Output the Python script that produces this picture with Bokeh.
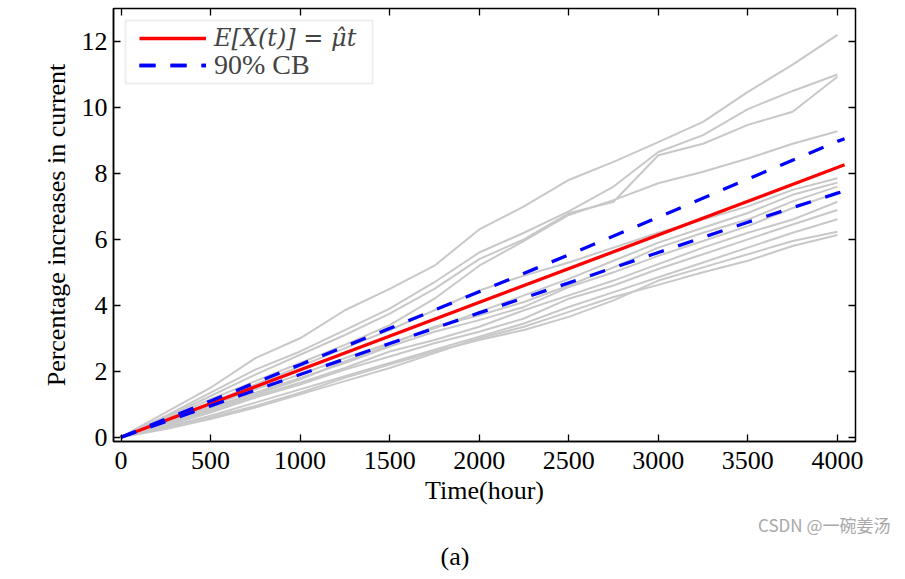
from bokeh.plotting import figure
from bokeh.models import (Range1d, LinearAxis, FixedTicker, Legend, LegendItem,
                          BoxAnnotation, Title)
from bokeh.embed import file_html
from bokeh.resources import INLINE

# ---------------- data ----------------
time_h = [0, 250, 500, 750, 1000, 1250, 1500, 1750, 2000, 2250, 2500,
          2750, 3000, 3250, 3500, 3750, 4000]

run_01 = [0, 0.75, 1.5, 2.4, 3.0, 3.85, 4.5, 5.2, 6.3, 7.0, 7.8, 8.35, 8.95, 9.56, 10.47, 11.3, 12.2]
run_02 = [0, 0.65, 1.35, 2.05, 2.6, 3.25, 3.9, 4.7, 5.6, 6.2, 6.85, 7.6, 8.65, 9.16, 9.95, 10.5, 11.0]
run_03 = [0, 0.6, 1.25, 1.9, 2.5, 3.1, 3.75, 4.5, 5.4, 6.0, 6.79, 7.14, 8.55, 8.9, 9.47, 9.87, 10.93]
run_04 = [0, 0.55, 1.15, 1.7, 2.25, 2.8, 3.4, 4.2, 5.2, 5.95, 6.74, 7.19, 7.7, 8.05, 8.45, 8.9, 9.28]
run_05 = [0, 0.5, 1.05, 1.6, 2.15, 2.7, 3.25, 3.85, 4.45, 4.9, 5.3, 5.75, 6.2, 6.6, 7.0, 7.5, 7.85]
run_06 = [0, 0.45, 0.95, 1.45, 1.9, 2.4, 2.85, 3.3, 3.8, 4.3, 4.8, 5.35, 5.9, 6.35, 6.8, 7.35, 7.72]
run_07 = [0, 0.4, 0.85, 1.3, 1.75, 2.3, 2.8, 3.35, 3.7, 4.1, 4.6, 5.15, 5.75, 6.2, 6.6, 7.15, 7.6]
run_08 = [0, 0.45, 0.9, 1.35, 1.8, 2.25, 2.75, 3.2, 3.55, 3.95, 4.55, 5.0, 5.5, 5.95, 6.4, 6.95, 7.41]
run_09 = [0, 0.4, 0.8, 1.25, 1.65, 2.1, 2.6, 2.95, 3.35, 3.85, 4.3, 4.75, 5.25, 5.75, 6.2, 6.6, 7.14]
run_10 = [0, 0.35, 0.75, 1.2, 1.6, 2.05, 2.45, 2.85, 3.2, 3.6, 4.2, 4.6, 5.1, 5.55, 6.0, 6.45, 6.89]
run_11 = [0, 0.3, 0.65, 1.05, 1.45, 1.85, 2.25, 2.65, 3.05, 3.45, 3.95, 4.4, 4.85, 5.3, 5.75, 6.2, 6.61]
run_12 = [0, 0.3, 0.6, 0.95, 1.35, 1.8, 2.2, 2.6, 2.95, 3.25, 3.65, 4.15, 4.75, 5.15, 5.55, 5.95, 6.23]
run_13 = [0, 0.25, 0.55, 0.9, 1.3, 1.7, 2.1, 2.55, 3.0, 3.35, 3.8, 4.25, 4.62, 5.0, 5.35, 5.8, 6.13]

mean_t = [0, 4040]
mean_v = [0, 8.26]

bound_t = [0, 500, 1000, 1500, 2000, 2500, 3000, 3500, 4000, 4040]
upper_v = [0, 1.10, 2.20, 3.30, 4.41, 5.53, 6.67, 7.83, 8.97, 9.05]
lower_v = [0, 0.95, 1.90, 2.84, 3.77, 4.68, 5.60, 6.52, 7.40, 7.47]

x_ticks = [0, 500, 1000, 1500, 2000, 2500, 3000, 3500, 4000]
y_ticks = [0, 2, 4, 6, 8, 10, 12]

label_mean = "E[X(t)] = \u03bc\u0302t"
label_cb = "90% CB"
x_title = "Time(hour)"
y_title = "Percentage increases in current"
caption = "(a)"
watermark = "CSDN @\u4e00\u7897\u59dc\u6c64"

# ---------------- figure ----------------
SERIF = "Liberation Serif"
FS = "26px"

p = figure(width=897, height=571, output_backend="svg", toolbar_location=None,
           x_range=Range1d(-42, 4101), y_range=Range1d(-0.13, 13.0),
           min_border_left=113, min_border_right=42,
           min_border_top=8, min_border_bottom=130)
p.grid.visible = False
p.background_fill_color = "white"
p.border_fill_color = "white"
p.outline_line_color = "black"
p.outline_line_width = 1.5

for ax, ticks in ((p.xaxis[0], x_ticks), (p.yaxis[0], y_ticks)):
    ax.ticker = FixedTicker(ticks=ticks)
    ax.major_tick_in = 7
    ax.major_tick_out = 0
    ax.minor_tick_line_color = None
    ax.axis_line_width = 1.5
    ax.major_tick_line_width = 1.3
    ax.major_label_text_font = SERIF
    ax.major_label_text_font_size = FS
    ax.major_label_text_color = "black"
    ax.axis_label_text_font = SERIF
    ax.axis_label_text_font_size = FS
    ax.axis_label_text_font_style = "normal"
    ax.axis_label_text_color = "black"

p.xaxis.axis_label = x_title
p.yaxis.axis_label = y_title
p.xaxis.major_label_standoff = 10
p.xaxis.axis_label_standoff = 4
p.yaxis.major_label_standoff = 6
p.yaxis.axis_label_standoff = 8

for place, ticks in (("above", x_ticks), ("right", y_ticks)):
    ax = LinearAxis(ticker=FixedTicker(ticks=ticks),
                    major_label_overrides={t: "" for t in ticks},
                    major_label_text_font_size="0px", major_label_standoff=0,
                    major_tick_in=7, major_tick_out=0,
                    minor_tick_line_color=None, axis_line_color=None,
                    major_tick_line_width=1.3)
    p.add_layout(ax, place)

GRAY = "#c8c8c8"
for run in (run_01, run_02, run_03, run_04, run_05, run_06, run_07,
            run_08, run_09, run_10, run_11, run_12, run_13):
    p.line(time_h, run, line_color=GRAY, line_width=2)

r_mean = p.line(mean_t, mean_v, line_color="#ff0000", line_width=3.3)
r_up = p.line(bound_t, upper_v, line_color="#0000ff", line_width=3.3, line_dash="16 15")
r_lo = p.line(bound_t, lower_v, line_color="#0000ff", line_width=3.3, line_dash="16 15")

# legend frame
box = BoxAnnotation(left=12, right=259, top=421, bottom=358,
                    left_units="screen", right_units="screen",
                    top_units="screen", bottom_units="screen",
                    fill_color="white", fill_alpha=1.0,
                    line_color="#c8c8c8", line_width=2)
p.add_layout(box)

leg1 = Legend(items=[LegendItem(label=label_mean, renderers=[r_mean])],
              location=(26, 389), padding=0, margin=0, spacing=0,
              glyph_width=67, glyph_height=28, label_height=28, label_standoff=8,
              label_text_font="DejaVu Serif", label_text_font_style="italic",
              label_text_font_size="24px", border_line_alpha=0, background_fill_alpha=0)
leg2 = Legend(items=[LegendItem(label=label_cb, renderers=[r_up, r_lo])],
              location=(26, 360), padding=0, margin=0, spacing=0,
              glyph_width=67, glyph_height=28, label_height=28, label_standoff=8,
              label_text_font=SERIF, label_text_font_style="normal",
              label_text_font_size="28px", border_line_alpha=0, background_fill_alpha=0)
p.add_layout(leg1)
p.add_layout(leg2)

t_wm = Title(text=watermark, align="right", offset=-35, standoff=5,
             text_font="Noto Sans CJK SC", text_font_size="17px",
             text_font_style="normal", text_color="#a8a8a8")
p.add_layout(t_wm, "below")
t_cap = Title(text=caption, align="left", offset=327, standoff=0,
              text_font=SERIF, text_font_size=FS,
              text_font_style="normal", text_color="black")
p.add_layout(t_cap, "below")

open("out.html", "w").write(file_html(p, INLINE))
